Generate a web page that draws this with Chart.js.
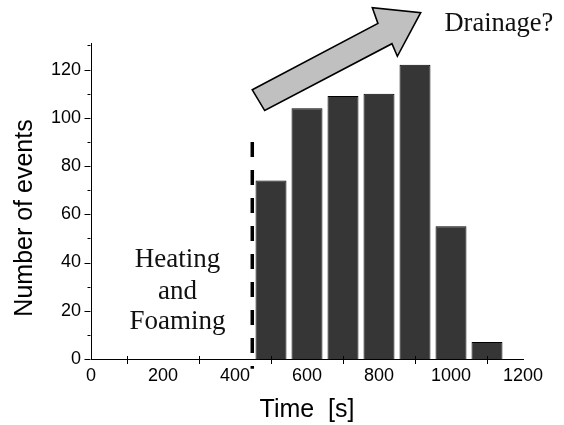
<!DOCTYPE html>
<html>
<head>
<meta charset="utf-8">
<script src="https://cdn.jsdelivr.net/npm/chart.js@4/dist/chart.umd.min.js"></script>
<style>
  html, body { margin: 0; padding: 0; background: #fff; }
  #wrap { width: 564px; height: 425px; }
</style>
</head>
<body>
<div id="wrap"><canvas id="c" width="564" height="425"></canvas></div>
<script>
// ---- data ----
const timeBins = [500, 600, 700, 800, 900, 1000, 1100];
const eventCounts = [74, 104, 109, 110, 122, 55, 7];
const xTicks = [0, 200, 400, 600, 800, 1000, 1200];
const yTicks = [0, 20, 40, 60, 80, 100, 120];
// dashed marker (time, from count, to count)
const markerTime = 448;
const markerRange = [-4, 90];
// arrow outline in data units [time, count]
const arrowPoints = [[448, 111.6], [797, 139.1], [781.5, 145.6], [915.8, 143.6], [851, 125.5], [836, 130.7], [482.5, 103]];
const drainageLabel = { text: 'Drainage?', time: 1133, count: 136 };
const heatingLabel = { lines: ['Heating', 'and', 'Foaming'], time: 240, counts: [38, 25, 12.5] };
const yTitle = 'Number of events';
const xTitle = 'Time  [s]';

const SANS = "'Liberation Sans', Arial, sans-serif";
const SERIF = "'Liberation Serif', 'Times New Roman', serif";

const overlay = {
  id: 'overlay',
  afterDraw(chart) {
    const ctx = chart.ctx;
    const xs = chart.scales.x, ys = chart.scales.y;
    const X = v => xs.getPixelForValue(v), Y = v => ys.getPixelForValue(v);
    ctx.save();
    // ticks
    ctx.strokeStyle = '#000';
    ctx.lineWidth = 1;
    ctx.beginPath();
    const x0 = Math.round(X(0)) - 0.5;
    for (let v = 0; v <= 130; v += 10) {
      const y = Math.round(Y(v)) + 0.5;
      const len = (v % 20 === 0) ? 6 : 3;
      ctx.moveTo(x0, y); ctx.lineTo(x0 - len, y);
    }
    for (let v = 100; v < 1200; v += 200) {
      const x = Math.round(X(v)) + 0.5;
      ctx.moveTo(x, Y(0) - 3); ctx.lineTo(x, Y(0) + 5);
    }
    ctx.stroke();
    // dashed marker
    ctx.beginPath();
    ctx.setLineDash([15, 13]);
    ctx.lineWidth = 3.5;
    ctx.moveTo(X(markerTime), Y(markerRange[1]));
    ctx.lineTo(X(markerTime), Y(markerRange[0]));
    ctx.stroke();
    ctx.setLineDash([]);
    // arrow
    ctx.beginPath();
    arrowPoints.forEach((p, i) => {
      const px = X(p[0]), py = Y(p[1]);
      if (i === 0) ctx.moveTo(px, py); else ctx.lineTo(px, py);
    });
    ctx.closePath();
    ctx.fillStyle = '#c0c0c0';
    ctx.fill();
    ctx.lineWidth = 1.6;
    ctx.lineJoin = 'miter';
    ctx.strokeStyle = '#000';
    ctx.stroke();
    // texts
    ctx.fillStyle = '#111';
    ctx.textAlign = 'center';
    ctx.textBaseline = 'alphabetic';
    ctx.font = '26.5px ' + SERIF;
    ctx.fillText(drainageLabel.text, X(drainageLabel.time), Y(drainageLabel.count));
    ctx.font = '27px ' + SERIF;
    heatingLabel.lines.forEach((t, i) => {
      ctx.fillText(t, X(heatingLabel.time), Y(heatingLabel.counts[i]));
    });
    // y axis title
    ctx.save();
    ctx.fillStyle = '#000';
    ctx.font = '25px ' + SANS;
    ctx.textBaseline = 'middle';
    ctx.translate(25, 218);
    ctx.rotate(-Math.PI / 2);
    ctx.fillText(yTitle, 0, 0);
    ctx.restore();
    ctx.restore();
  }
};

new Chart(document.getElementById('c'), {
  type: 'bar',
  data: {
    datasets: [{
      data: timeBins.map((t, i) => ({ x: t, y: eventCounts[i] })),
      backgroundColor: '#363636',
      borderColor: '#000',
      borderWidth: 1,
      barPercentage: 0.86,
      categoryPercentage: 1
    }]
  },
  options: {
    responsive: false,
    animation: false,
    events: [],
    layout: { padding: { left: 0, right: 41, top: 43, bottom: 0 } },
    plugins: { legend: { display: false }, tooltip: { enabled: false } },
    scales: {
      x: {
        type: 'linear',
        offset: false,
        min: 0, max: 1200,
        afterFit(s) { s.height = 66; },
        afterBuildTicks(s) { s.ticks = xTicks.map(v => ({ value: v })); },
        grid: { display: false, drawTicks: false, offset: false },
        border: { display: true, color: '#000', width: 1 },
        ticks: { color: '#000', padding: 6, maxRotation: 0, autoSkip: false, font: { family: SANS, size: 18 }, callback: v => String(v) },
        title: { display: true, text: xTitle, color: '#000', font: { family: SANS, size: 25 }, padding: { top: 0, bottom: 0 } }
      },
      y: {
        type: 'linear',
        min: 0, max: 131,
        afterFit(s) { s.width = 91; },
        afterBuildTicks(s) { s.ticks = yTicks.map(v => ({ value: v })); },
        grid: { display: false, drawTicks: false },
        border: { display: true, color: '#000', width: 1 },
        ticks: { color: '#000', padding: 10, font: { family: SANS, size: 18 }, callback: v => String(v) },
        title: { display: false }
      }
    }
  },
  plugins: [overlay]
});
</script>
</body>
</html>
